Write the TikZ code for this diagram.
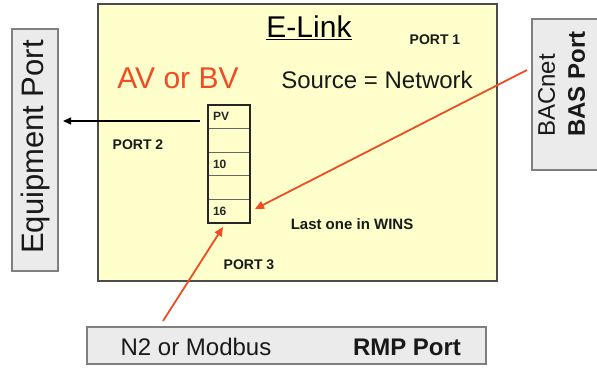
\documentclass[tikz,border=0pt]{standalone}
\usepackage{fontspec}
\setmainfont{Liberation Sans}
\usetikzlibrary{arrows.meta,calc}
\definecolor{ylw}{HTML}{FFFFCC}
\definecolor{gry}{HTML}{EBEBEB}
\definecolor{edg}{HTML}{7F7F7F}
\definecolor{rd}{HTML}{F04B23}
\tikzset{
  panel/.style={draw=edg,line width=1.2pt,fill=gry},
  cell/.style={draw=black!60,line width=0.8pt,minimum width=42pt,minimum height=23.6pt,inner sep=0pt,outer sep=0pt,
     font=\fontsize{12}{12}\selectfont\bfseries,text=black!85,text width=32pt,align=left},
  lbl/.style={font=\fontsize{14}{14}\selectfont\bfseries,text=black!90,inner sep=0pt},
  redarrow/.style={draw=rd,line width=1.8pt,-{Triangle[length=9pt,width=8pt]}},
  blkarrow/.style={draw=black,line width=1.3pt,-{Triangle[length=8pt,width=7pt]}}
}
\begin{document}
\begin{tikzpicture}[x=1pt,y=-1pt]
\useasboundingbox (0,0) rectangle (597,368);
\clip (0,0) rectangle (597,368);
% main E-Link box
\draw[draw=black!70,line width=1.2pt,fill=ylw] (98,4) rectangle (497,281);
\node[font=\fontsize{30}{30}\selectfont,text=black,inner sep=0pt] (title) at (309,28) {\underline{E-Link}};
\node[lbl] (p1) at (435,40) {PORT 1};
\node[font=\fontsize{30}{30}\selectfont,text=rd,inner sep=0pt] (avbv) at (178,78) {AV or BV};
\node[font=\fontsize{24}{24}\selectfont,text=black!90,inner sep=0pt] (src) at (377,80) {Source = Network};
\node[lbl] (p2) at (138,145) {PORT 2};
\node[lbl] (p3) at (249,265) {PORT 3};
\node[lbl,font=\fontsize{15}{15}\selectfont\bfseries] (last) at (352,224) {Last one in WINS};
% stack
\node[cell,anchor=north west] (c1) at (208,105) {PV};
\node[cell,anchor=north] (c2) at (c1.south) {};
\node[cell,anchor=north] (c3) at (c2.south) {10};
\node[cell,anchor=north] (c4) at (c3.south) {};
\node[cell,anchor=north] (c5) at (c4.south) {16};
\draw[draw=black!85,line width=1.5pt] (c1.north west) rectangle (c5.south east);
% side panels
\draw[panel] (12,29) rectangle (58,271);
\node[rotate=90,font=\fontsize{31}{31}\selectfont,text=black!90,inner sep=0pt] (equip) at (35,147) {Equipment Port};
\draw[panel] (532,19) rectangle (602,170);
\node[rotate=90,anchor=north west,align=left,font=\fontsize{24}{30}\selectfont,text=black!90,inner sep=0pt] (bas) at (538,137) {BACnet\\\textbf{BAS Port}};
\draw[panel] (87,327) rectangle (486,364);
\node[font=\fontsize{24}{24}\selectfont,text=black!90,inner sep=0pt] (n2) at (196,347) {N2 or Modbus};
\node[font=\fontsize{24}{24}\selectfont\bfseries,text=black!90,inner sep=0pt] (rmp) at (407,347) {RMP Port};
% connector endpoints
\coordinate (basout) at (527,70);
\coordinate (rmpout) at (163,321);
\coordinate (equipin) at (63,121);
\coordinate (pvout) at (200,121);
\coordinate (in16) at (255,209);
\coordinate (under16) at (223,227);
\draw[blkarrow] (pvout) -- (equipin);
\draw[redarrow] (basout) -- (in16);
\draw[redarrow] (rmpout) -- (under16);
\end{tikzpicture}
\end{document}
